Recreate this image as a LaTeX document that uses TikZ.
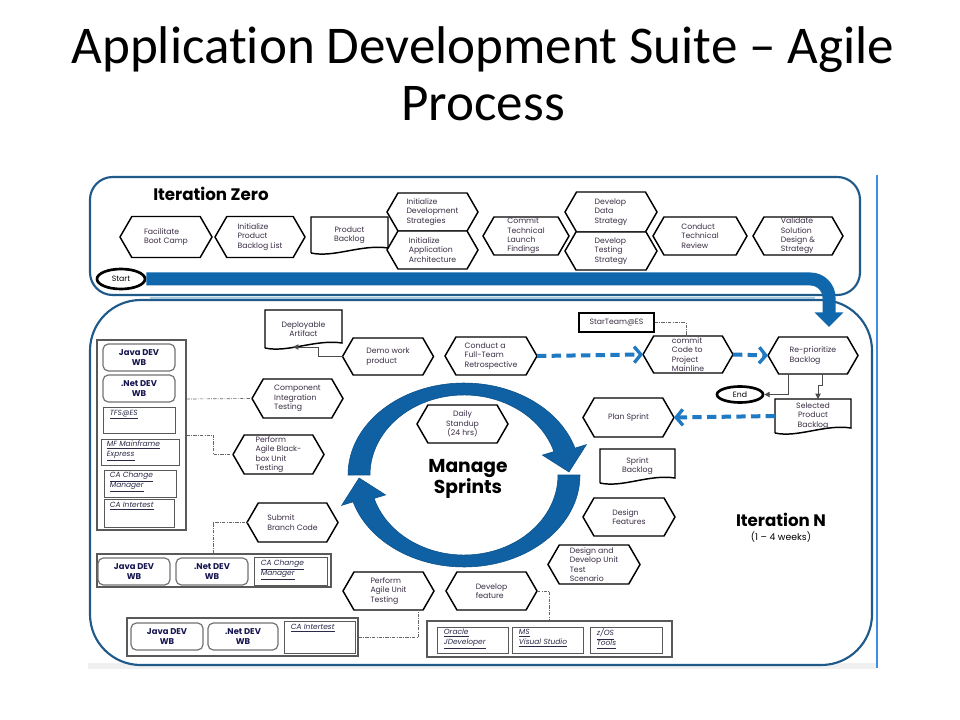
\documentclass[tikz,border=0pt]{standalone}
\usepackage{fontspec}
\setmainfont{Carlito}[Ligatures={NoCommon}]
\newfontfamily\gfont{Poppins}
\usetikzlibrary{shapes.symbols,shapes.geometric,arrows.meta}
\definecolor{panelblue}{HTML}{1F5A8A}
\definecolor{bandblue}{HTML}{1067AC}
\definecolor{ringblue}{HTML}{0F61A3}
\definecolor{ringdark}{HTML}{0A4E86}
\definecolor{dashblue}{HTML}{1F79C3}
\definecolor{sideblue}{HTML}{3E8EE8}
\definecolor{lightline}{HTML}{A8C8E0}
\definecolor{lblcol}{HTML}{3A2E44}
\definecolor{navy}{HTML}{161650}
\definecolor{linkcol}{HTML}{2A2A48}
\newcommand\lbl{\gfont\fontsize{5.8}{7}\selectfont}
\newcommand\wbf{\gfont\bfseries\fontsize{6.3}{7}\selectfont}
\newcommand\lnk{\gfont\itshape\fontsize{5.6}{7.5}\selectfont}
\tikzset{
 hsize/.style 2 args={minimum width=#1*0.75pt, minimum height=#2*0.75pt},
 hex/.style={shape=signal, signal to=west and east, signal pointer angle=120, draw=black, line width=1.1pt, fill=white, inner xsep=1pt, inner ysep=0.5pt, outer sep=0pt, font=\lbl, text=lblcol, align=left},
 docbox/.style={inner sep=1pt, outer sep=0pt, font=\lbl, text=lblcol, align=center},
 docline/.style={draw=black, line width=1.1pt},
 plainbox/.style={draw=black, line width=1pt, fill=white, inner sep=1pt, font=\lbl, text=lblcol},
 toolouter/.style={draw=black!65, line width=0.8pt, fill=white, inner sep=0pt},
 wbbox/.style={draw=black!55, line width=0.9pt, rounded corners=4pt, fill=white, font=\wbf, text=navy, align=center, inner sep=0pt},
 linkbox/.style={draw=black!65, line width=0.6pt, fill=white, inner sep=0pt},
 linktext/.style={anchor=north west, font=\lnk, text=linkcol, align=left, inner sep=0pt},
 dashdot/.style={draw=black!60, line width=0.5pt, dash pattern=on 2.5pt off 1pt on 0.5pt off 1pt},
 arrowline/.style={draw=black!70, line width=0.7pt, -{Triangle[length=4pt,width=4pt]}},
 bluedash/.style={draw=dashblue, line width=3pt, dash pattern=on 7pt off 4pt, -{Straight Barb[length=5pt,width=12pt,line width=2.5pt]}},
 ringarrow/.style={fill=ringblue, draw=ringdark, line width=0.4pt},
 endoval/.style={ellipse, draw=black, line width=2pt, inner sep=0pt, font=\lbl, text=black}
}
\newcommand\docshape[6]{%
 \node[docbox, hsize={#4}{#5}] (#1) at (#2,#3) {#6};
 \draw[docline] (#1.south west) -- (#1.north west) -- (#1.north east) -- ([shift={(0,-5)}]#1.south east) .. controls +(-#4*0.35,-4) and +(#4*0.3,5) .. (#1.south west);
}
\begin{document}
\begin{tikzpicture}[x=0.75pt,y=-0.75pt]
\useasboundingbox (0,0) rectangle (960,720);
\fill[white] (0,0) rectangle (960,720);
% title
\node[font=\fontsize{39.8}{44}\selectfont, anchor=base, inner sep=0pt] (t1) at (483,64) {Application Development Suite – Agile};
\node[font=\fontsize{39.8}{44}\selectfont, anchor=base, inner sep=0pt] (t2) at (483,121) {Process};
% panels
\fill[black!6] (88,663) rectangle (876,669);
\draw[panelblue, line width=1.6pt, rounded corners=38pt, fill=white] (90,300) rectangle (872,665);
\draw[lightline, line width=1.2pt] (150,298) -- (815,298);
\draw[panelblue, line width=1.6pt, rounded corners=17pt] (90,177) rectangle (860,295);
\draw[sideblue, line width=2.2pt] (877,175) -- (877,668);
% iteration zero
\node[font=\gfont\bfseries\fontsize{12.5}{14}\selectfont, anchor=base west, inner sep=0pt] (iz) at (153,201) {Iteration Zero};
\node[endoval, hsize={48}{20}] (start) at (121,279) {Start};
\coordinate (bandend) at (829,327);
\draw[bandblue, line width=9.75pt, rounded corners=14pt, -{Triangle[length=11pt,width=21pt]}] (start.east) -- (829,279) -- (bandend);
\node[hex, hsize={92}{41}] (boot) at (166,237) {Facilitate\\Boot Camp};
\node[hex, hsize={90}{41}] (iplist) at (260,237) {Initialize\\Product\\Backlog List};
\docshape{pbl}{349.5}{235}{77}{36}{Product\\Backlog}
\node[hex, hsize={91}{38}] (idev) at (432.5,212) {Initialize\\Development\\Strategies};
\node[hex, hsize={91}{38}] (iapp) at (432.5,250) {Initialize\\Application\\Architecture};
\node[hex, hsize={86}{38}] (ctlf) at (526,236) {Commit\\Technical\\Launch\\Findings};
\node[hex, hsize={92}{40}] (dds) at (611,212) {Develop\\Data\\Strategy};
\node[hex, hsize={92}{38}] (dts) at (611,251) {Develop\\Testing\\Strategy};
\node[hex, hsize={94}{38}] (ctr) at (700,236) {Conduct\\Technical\\Review};
\node[hex, hsize={90}{38}] (vsd) at (798,236) {Validate\\Solution\\Design \&\\Strategy};
% iteration N
\node[font=\gfont\bfseries\fontsize{12.5}{14}\selectfont, anchor=base, inner sep=0pt] (itn) at (781,526) {Iteration N};
\node[font=\gfont\fontsize{7}{8}\selectfont, anchor=base, inner sep=0pt] (weeks) at (781,540) {(1 – 4 weeks)};
% ring
\fill[ringarrow] (348,475) arc[start angle=180, end angle=343, x radius=116, y radius=92] -- (586.4,444.6) -- (569,472) -- (542.4,455.1) -- (553.9,451.6) arc[start angle=343, end angle=180, x radius=94, y radius=80] -- cycle;
\fill[ringarrow] (580,475) arc[start angle=0, end angle=163, x radius=116, y radius=92] -- (341.6,505.4) -- (359.1,478) -- (385.6,494.9) -- (374.1,498.4) arc[start angle=163, end angle=0, x radius=94, y radius=80] -- cycle;
\node[font=\gfont\bfseries\fontsize{14}{14}\selectfont, align=center, inner sep=0pt] (ms) at (468,479) {Manage\\Sprints};
\node[hex, hsize={91}{38}, align=center] (daily) at (462.5,424) {Daily\\Standup\\(24 hrs)};
% lower process
\docshape{deploy}{303.5}{329}{77}{38}{Deployable\\Artifact}
\node[hex, hsize={91}{37}] (demo) at (388,356.5) {Demo work\\product};
\node[hex, hsize={92}{38}] (retro) at (491,356) {Conduct a\\Full-Team\\Retrospective};
\node[plainbox, hsize={75}{19}] (starteam) at (616.5,322.5) {StarTeam@ES};
\node[hex, hsize={90}{37}] (commit) at (688,354.5) {commit\\Code to\\Project\\Mainline};
\node[hex, hsize={90}{37}] (reprio) at (813,355.5) {Re-prioritize\\Backlog};
\node[endoval, hsize={46}{16}] (endn) at (740,394.5) {End};
\docshape{sel}{813}{416}{76}{34}{Selected\\Product\\Backlog}
\node[hex, hsize={91}{39}] (plan) at (628.5,417.5) {Plan Sprint};
\docshape{sprintbl}{637.5}{466}{75}{34}{Sprint\\Backlog}
\node[hex, hsize={92}{38}] (desf) at (629,517) {Design\\Features};
\node[hex, hsize={92}{39}] (ddut) at (594,564.5) {Design and\\Develop Unit\\Test\\Scenario};
\node[hex, hsize={91}{38}] (devf) at (491.5,591) {Develop\\feature};
\node[hex, hsize={91}{38}] (paut) at (388.5,591) {Perform\\Agile Unit\\Testing};
\node[hex, hsize={91}{39}] (sbc) at (292.5,522.5) {Submit\\Branch Code};
\node[hex, hsize={91}{39}] (cit) at (297.5,398.5) {Component\\Integration\\Testing};
\node[hex, hsize={91}{39}] (pabb) at (278.5,454.5) {Perform\\Agile Black-\\box Unit\\Testing};
% left tool column
\node[toolouter, hsize={89}{190}] (leftcol) at (141.5,435) {};
\node[wbbox, hsize={72}{27}] (java1) at (139,357.5) {Java DEV\\WB};
\node[wbbox, hsize={72}{27}] (net1) at (139,388.5) {.Net DEV\\WB};
\node[linkbox, hsize={72}{26}] (tfs) at (139,420) {};
\node[linktext] (tfsT) at ([shift={(7,3)}]tfs.north west) {\underline{TFS@ES}};
\node[linkbox, hsize={78}{26}] (mfe) at (140,452) {};
\node[linktext] (mfeT) at ([shift={(6,2)}]mfe.north west) {\underline{MF Mainframe}\\\underline{Express}};
\node[linkbox, hsize={72}{27}] (cacm1) at (140,483.5) {};
\node[linktext] (cacm1T) at ([shift={(6,2)}]cacm1.north west) {\underline{CA Change}\\\underline{Manager}};
\node[linkbox, hsize={70}{28}] (cai1) at (139,513) {};
\node[linktext] (cai1T) at ([shift={(6,3)}]cai1.north west) {\underline{CA Intertest}};
% tool box 1
\node[toolouter, hsize={234}{33}] (box1) at (214,570.5) {};
\node[wbbox, hsize={72}{27}] (java2) at (134,571.5) {Java DEV\\WB};
\node[wbbox, hsize={72}{27}] (net2) at (212,571.5) {.Net DEV\\WB};
\node[linkbox, hsize={73}{28}] (cacm2) at (290.5,571) {};
\node[linktext] (cacm2T) at ([shift={(7,3)}]cacm2.north west) {\underline{CA Change}\\\underline{Manager}};
% tool box 2
\node[toolouter, hsize={231}{38}] (box2) at (242.5,637) {};
\node[wbbox, hsize={72}{27}] (java3) at (167,636.5) {Java DEV\\WB};
\node[wbbox, hsize={70}{27}] (net3) at (243,636.5) {.Net DEV\\WB};
\node[linkbox, hsize={71}{32}] (cai3) at (319.5,637) {};
\node[linktext] (cai3T) at ([shift={(7,3)}]cai3.north west) {\underline{CA Intertest}};
% tool box 3
\node[toolouter, hsize={245}{36}] (box3) at (549.5,639) {};
\node[linkbox, hsize={71}{26}] (oracle) at (472.5,640) {};
\node[linktext] (oracleT) at ([shift={(7,2)}]oracle.north west) {\underline{Oracle}\\\underline{JDeveloper}};
\node[linkbox, hsize={71}{26}] (msvs) at (547.5,640) {};
\node[linktext] (msvsT) at ([shift={(7,2)}]msvs.north west) {\underline{MS}\\\underline{Visual Studio}};
\node[linkbox, hsize={72}{26}] (zos) at (626,640) {};
\node[linktext] (zosT) at ([shift={(7,2)}]zos.north west) {\underline{z/OS}\\\underline{Tools}};
% connectors
\coordinate (dpin) at (293,347);
\draw[arrowline] (demo.west) -- ++(-24,0) |- (dpin);
\draw[bluedash] (retro.east) -- (commit.west);
\draw[bluedash] (commit.east) -- (reprio.west);
\draw[dashdot] (starteam.east) -| ([shift={(-2,0)}]commit.north);
\draw[arrowline] ([shift={(-25,0)}]reprio.south) |- (endn.east);
\draw[arrowline] ([shift={(9,0)}]reprio.south) -- ++(0,11) -- ++(-4,0) -- ([shift={(5,0)}]sel.north);
\draw[bluedash] (sel.west) -- (plan.east);
\draw[dashdot] ([shift={(0,-36)}]leftcol.east) -- (cit.west);
\draw[dashdot] (leftcol.east) -- ++(27,0) |- (pabb.west);
\draw[dashdot] ([shift={(-1,0)}]box1.north) |- (sbc.west);
\draw[dashdot] (box2.east) -| ([shift={(30,0)}]paut.south);
\draw[dashdot] (devf.east) -| (box3.north);
\end{tikzpicture}
\end{document}
